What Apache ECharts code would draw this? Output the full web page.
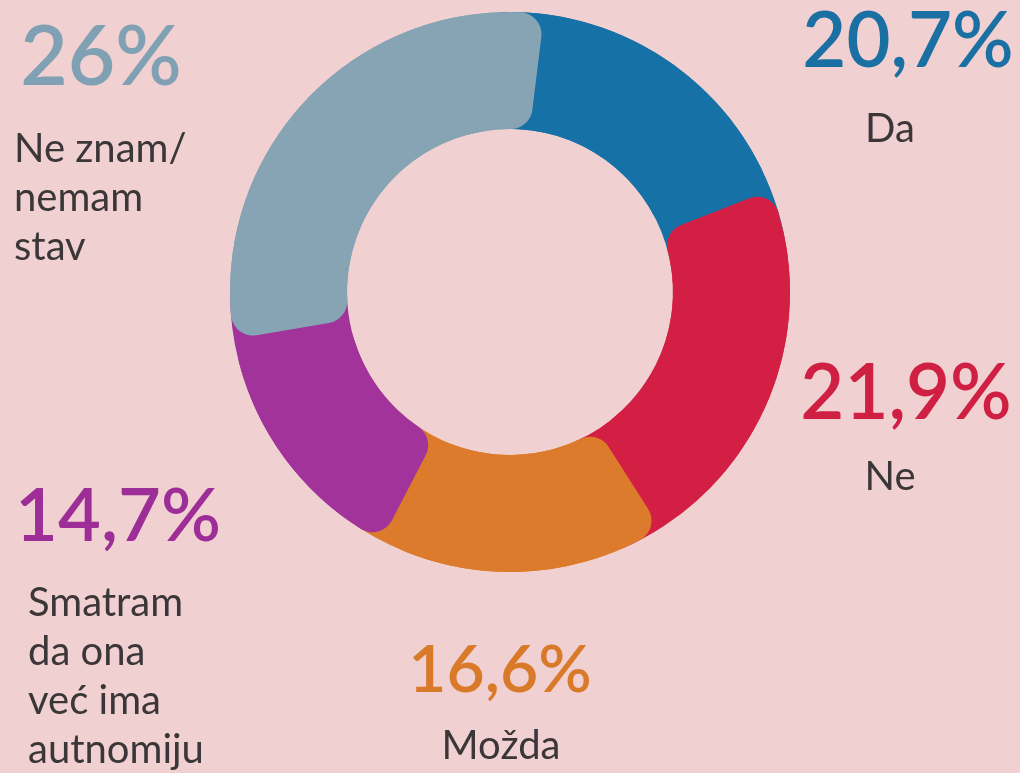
<!DOCTYPE html>
<html>
<head>
<meta charset="utf-8">
<script src="https://cdn.jsdelivr.net/npm/echarts@6/dist/echarts.min.js"></script>
<style>
html,body{margin:0;padding:0;background:#f0d0d0;}
#c{width:1020px;height:773px;}
</style>
</head>
<body>
<div id="c"></div>
<script>
// Data
const categories = ['Da', 'Ne', 'Možda', 'Smatram\nda ona\nveć ima\nautnomiju', 'Ne znam/\nnemam\nstav'];
const values = [20.7, 21.9, 16.6, 14.7, 26];
const percentLabels = ['20,7%', '21,9%', '16,6%', '14,7%', '26%'];

// Styles / layout (not data)
const colors = ['#1671a6', '#d31f44', '#dc7b2b', '#a2339b', '#86a4b4'];
const textColors = ['#1a70a3', '#cf1f43', '#d97a2b', '#9e2e97', '#7fa1b3'];
const labelLayout = [
  {px: 908, py: 42, pSize: 76, lx: 890, ly: 129, lAlign: 'center'},
  {px: 906, py: 394, pSize: 76, lx: 890, ly: 477, lAlign: 'center'},
  {px: 500, py: 671, pSize: 66, lx: 501, ly: 746, lAlign: 'center'},
  {px: 118, py: 517, pSize: 74, lx: 28, ly: 603, lAlign: 'left'},
  {px: 101, py: 59, pSize: 82, lx: 14, ly: 149, lAlign: 'left'}
];
const FONT = 'Lato';
const LINE_H = 49;

const chart = echarts.init(document.getElementById('c'), null, {renderer: 'canvas'});

const pieData = values.map((v, i) => ({name: categories[i], value: v, itemStyle: {color: colors[i]}}));
// overlay: only last slice (grey) is painted, so it laps over the start of the first slice
const overlayData = values.map((v, i) => ({
  name: categories[i], value: v,
  itemStyle: {color: i === values.length - 1 ? colors[i] : 'rgba(0,0,0,0)'}
}));

const graphics = [];
labelLayout.forEach((L, i) => {
  graphics.push({
    type: 'text', silent: true,
    style: {
      x: L.px, y: L.py, text: percentLabels[i], fill: textColors[i],
      font: '600 ' + L.pSize + 'px ' + FONT, textAlign: 'center', textVerticalAlign: 'middle'
    }
  });
  categories[i].split('\n').forEach((line, j) => {
    graphics.push({
      type: 'text', silent: true,
      style: {
        x: L.lx, y: L.ly + j * LINE_H, text: line, fill: '#3b3638',
        font: '400 40px ' + FONT, textAlign: L.lAlign, textVerticalAlign: 'middle'
      }
    });
  });
});

const common = {
  type: 'pie', silent: true,
  center: [510, 292], radius: [163, 280], clockwise: true,
  label: {show: false}, labelLine: {show: false}
};

chart.setOption({
  backgroundColor: '#f0d0d0',
  animation: false,
  series: [
    Object.assign({}, common, {startAngle: 87, data: pieData}),
    Object.assign({}, common, {startAngle: 96, itemStyle: {borderRadius: 22}, data: pieData}),
    Object.assign({}, common, {startAngle: 83, itemStyle: {borderRadius: 22}, data: overlayData})
  ],
  graphic: graphics
});
</script>
</body>
</html>
